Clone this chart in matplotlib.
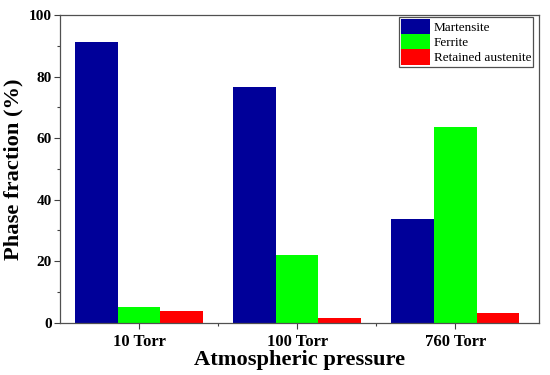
import matplotlib
matplotlib.use("Agg")
import matplotlib.pyplot as plt
import numpy as np
from matplotlib.ticker import MultipleLocator, FixedLocator

categories = ["10 Torr", "100 Torr", "760 Torr"]
martensite = [91.1, 76.6, 33.8]
ferrite = [5.2, 22.0, 63.6]
retained_austenite = [3.7, 1.4, 3.0]
series_names = ["Martensite", "Ferrite", "Retained austenite"]
colors = ["#000099", "#00FF00", "#FF0000"]

plt.rcParams['font.family'] = ['Liberation Serif', 'DejaVu Serif']

fig = plt.figure(figsize=(5.5, 3.75), dpi=100)
ax = fig.add_axes([60/550, 1-322.7/375, 479/550, 307.7/375])

x = np.arange(len(categories))
w = 0.27
for i, (vals, name, c) in enumerate(zip([martensite, ferrite, retained_austenite], series_names, colors)):
    ax.bar(x + (i - 1) * w, vals, width=w, color=c, label=name, linewidth=0)

ax.set_xlim(-0.5, 2.53)
ax.set_ylim(0, 100)
ax.set_xticks(x)
ax.set_xticklabels(categories, fontsize=12, fontweight='bold')
ax.xaxis.set_minor_locator(FixedLocator([0.5, 1.5]))
ax.yaxis.set_major_locator(MultipleLocator(20))
ax.yaxis.set_minor_locator(MultipleLocator(10))
for lab in ax.get_yticklabels():
    lab.set_fontweight('bold')
    lab.set_fontsize(11)

ax.tick_params(axis='both', which='major', direction='out', length=4, width=0.8, color='#404040')
ax.tick_params(axis='both', which='minor', direction='out', length=2.3, width=0.8, color='#404040')
ax.tick_params(axis='x', which='major', pad=4)
ax.tick_params(axis='y', which='major', pad=2)
ax.tick_params(axis='x', which='minor', length=2.5)

for s in ax.spines.values():
    s.set_color('#505050')
    s.set_linewidth(0.9)

ax.set_xlabel("Atmospheric pressure", fontsize=16.2, fontweight='bold', labelpad=0)
ax.set_ylabel("Phase fraction (%)", fontsize=16.2, fontweight='bold', labelpad=4)

leg = ax.legend(loc='upper right', bbox_to_anchor=((533-60)/479, (322.7-17)/307.7),
                borderaxespad=0, fontsize=9.5, fancybox=False, framealpha=1,
                edgecolor='#505050', labelspacing=0.0, handlelength=2.2,
                handleheight=1.4, handletextpad=0.3, borderpad=0.15)
leg.get_frame().set_linewidth(0.9)

fig.savefig("out.png", dpi=100)
